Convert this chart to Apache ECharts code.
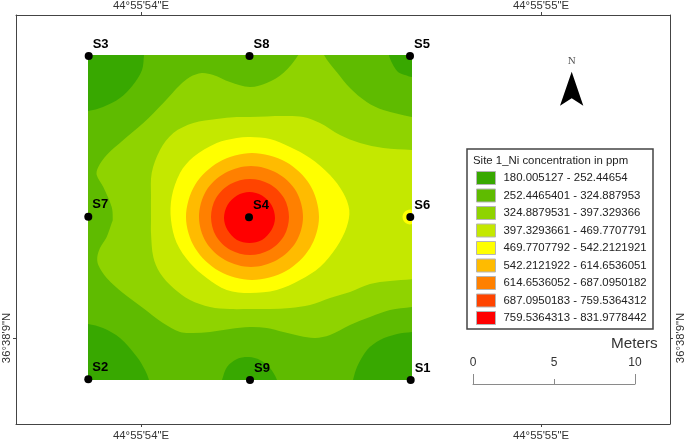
<!DOCTYPE html>
<html><head><meta charset="utf-8">
<style>html,body{margin:0;padding:0;background:#fff}#c{width:685px;height:439px}</style>
<script src="https://cdn.jsdelivr.net/npm/echarts@6/dist/echarts.min.js"></script></head>
<body><div id="c"></div>
<script>
// Map units: origin at station S2, x east, y north.
const bandNames = ['180.005127 - 252.44654','252.4465401 - 324.887953','324.8879531 - 397.329366','397.3293661 - 469.7707791','469.7707792 - 542.2121921','542.2121922 - 614.6536051','614.6536052 - 687.0950182','687.0950183 - 759.5364312','759.5364313 - 831.9778442'];
const bandColors = ['#38a800','#5fbb00','#8fd300','#c4e800','#ffff00','#ffbb00','#ff8000','#ff4400','#ff0000'];

const band2 = [[[-30,-30],[354,-30],[354,355],[-30,355]]];
const band1 = [
 [[58,345],[56,325],[54,310],[45,295],[32,282],[15,273],[0,269],[-25,266],[-25,345]],
 [[300,345],[301,325],[304,317],[310,308],[317,305],[324,303],[345,302],[345,345]],
 [[-25,59],[0,56],[15,52],[32,42],[49,23],[57,10],[61,0],[65,-20],[-25,-20]],
 [[128,-20],[134,0],[139,13],[149,21],[161,23],[172,20],[182,12],[189,0],[195,-20]],
 [[260,-20],[265,0],[269,13],[279,30],[292,40],[309,46],[324,48],[345,50],[345,-20]]
];
const band3 = [[[24.7,160],[23.7,173],[15.3,193],[8.7,205],[10.3,213],[18.7,225],[35.3,240],[55.3,257],[75.3,277],[92,295],[102,303],[113.7,307],[125.3,305],[142,298],[162,293],[178.7,297],[195.3,307],[210.3,325],[217,343],[230,343],[236,325],[248.7,308],[262,292],[278.7,278],[295.3,270],[323.7,263],[345,258],[345,78],[323.7,73],[302,70],[282,63],[262,55],[242,45],[227,42],[212,44],[195.3,48],[178.7,52],[162,53],[142,51],[122,48],[105,47],[92,48],[75,57],[55,72],[35,87],[18.7,102],[10.3,115],[9.3,123],[12,132],[18.7,143],[23.7,157]]];
const band4 = [[[63,160],[63,183],[63.7,207],[72,230],[85.3,247],[105.3,257],[128.7,261],[148.7,263],[162,263],[195.3,264],[215.3,263],[232,257],[252,245],[272,237],[295.3,232],[323.7,230],[345,228],[345,103],[323.7,100.7],[302,99],[282,96],[262,88],[242,82],[222,75],[202,72],[182,71],[162,71],[142,71],[122,73],[102,80],[85.3,92],[72,107],[65.3,123],[63,147]]];
const band5 = [
 [[83,160],[83.7,183],[92,207],[105.3,223],[128.7,237],[148.7,242],[162,243],[182,241],[202,233],[222,222],[242,205],[255.3,187],[261.3,170],[258.7,153],[248.7,133],[232,113],[212,100],[188.7,90],[162,87],[138.7,90],[118.7,102],[102,117],[88.7,137]],
 [[329.5,163],[327.5,168],[322,170.5],[316.5,168],[314.5,163],[316.5,158],[322,155.5],[327.5,158]]
];
const band6 = [[[231,163],[222,195],[198,218],[164,227],[131,218],[107,195],[98,163],[107,132],[131,109],[164,100],[198,109],[222,132]]];
const band7 = [[[215,163],[208,189],[189,207],[163,214],[137,207],[118,189],[111,163],[118,138],[137,120],[163,113],[189,120],[208,138]]];
const band8 = [[[201,163],[196,182],[181.5,196],[162,201],[142.5,196],[128,182],[123,163],[128,144],[142.5,130],[162,125],[181.5,130],[196,144]]];
const band9 = [[[187,162],[183.5,175],[174,184.5],[161.5,188],[149,184.5],[139.5,175],[136,162],[139.5,150],[149,140],[161.5,137],[174,140],[183.5,150]]];

const paintOrder = [[1,band2],[0,band1],[2,band3],[3,band4],[4,band5],[5,band6],[6,band7],[7,band8],[8,band9]];

const stations = [['S1',322.7,0],['S2',0.3,0.7],['S3',0.7,324],['S4',161,162.7],['S5',322,324],['S6',322.3,163],['S7',0.3,163.3],['S8',161.5,324],['S9',162,0]];
const lonTicks = [53,453];
const lonLabels = ['44°55\'54"E','44°55\'55"E'];
const latTicks = [42];
const latLabels = ['36°38\'9"N'];
const scaleTicks = [0,5,10];

const chart = echarts.init(document.getElementById('c'),null,{renderer:'canvas'});
const frameColor = '#444';
const lonAxis = (pos,m) => ({type:'value',gridIndex:0,position:pos,min:-72,max:582,
  axisLine:{show:true,onZero:false,lineStyle:{color:frameColor,width:1}},
  axisTick:{show:true,length:3,customValues:lonTicks,lineStyle:{color:frameColor}},
  axisLabel:{show:true,margin:m,customValues:lonTicks,fontSize:11.3,color:'#333',fontFamily:'Liberation Sans',
    formatter:v=>lonLabels[lonTicks.indexOf(v)]},splitLine:{show:false}});
const latAxis = (pos,m) => ({type:'value',gridIndex:0,position:pos,min:-44,max:365,
  axisLine:{show:true,onZero:false,lineStyle:{color:frameColor,width:1}},
  axisTick:{show:true,length:3,customValues:latTicks,lineStyle:{color:frameColor}},
  axisLabel:{show:true,margin:m,rotate:90,customValues:latTicks,fontSize:11.3,color:'#333',fontFamily:'Liberation Sans',
    formatter:v=>latLabels[latTicks.indexOf(v)]},splitLine:{show:false}});

const bandSeries = paintOrder.map(([idx,outlines],k)=>({
  type:'custom',name:bandNames[idx],xAxisIndex:2,yAxisIndex:2,clip:true,silent:true,z:2+k*0.01,
  itemStyle:{color:bandColors[idx]},
  data:outlines.map((o,i)=>[i]),
  renderItem:(params,api)=>({type:'polygon',
    shape:{points:outlines[params.dataIndex].map(p=>api.coord(p)),smooth:(idx===1)?0:0.33,smoothConstraint:false},
    style:{fill:bandColors[idx]}})
}));

chart.setOption({
  animation:false,backgroundColor:'#fff',
  textStyle:{fontFamily:'Liberation Sans'},
  title:[
    {text:'Site 1_Ni concentration in ppm',left:473,top:155,padding:0,textStyle:{fontSize:11.4,fontWeight:'normal',color:'#222',fontFamily:'Liberation Sans'}},
    {text:'Meters',left:611,top:336,padding:0,textStyle:{fontSize:15.3,fontWeight:'normal',color:'#333',fontFamily:'Liberation Sans'}}
  ],
  grid:[
    {left:16,top:15,width:654,height:409,show:false,outerBoundsMode:'none'},
    {left:473,top:384,width:162,height:10,show:false,outerBoundsMode:'none'},
    {left:88,top:55,width:324,height:325,show:false,outerBoundsMode:'none'}
  ],
  xAxis:[lonAxis('bottom',6),lonAxis('top',4),
    {type:'value',gridIndex:2,min:0,max:324,show:false},
    {type:'value',gridIndex:1,position:'top',min:0,max:10,interval:10,
      axisLine:{show:true,onZero:false,lineStyle:{color:'#8a8a8a'}},
      axisTick:{show:true,length:10,lineStyle:{color:'#8a8a8a'}},
      minorTick:{show:true,splitNumber:2,length:5,lineStyle:{color:'#8a8a8a'}},
      axisLabel:{show:true,margin:15,customValues:scaleTicks,fontSize:12,color:'#333',fontFamily:'Liberation Sans'},
      splitLine:{show:false}}
  ],
  yAxis:[latAxis('left',4),latAxis('right',5),
    {type:'value',gridIndex:2,min:0,max:325,show:false},
    {type:'value',gridIndex:1,min:0,max:1,show:false}
  ],
  legend:{orient:'vertical',left:476,top:171,padding:0,itemWidth:19,itemHeight:13,itemGap:3.5,icon:'rect',selectedMode:false,
    data:bandNames,itemStyle:{borderColor:'#b5b5b5',borderWidth:1},
    textStyle:{fontSize:11.4,color:'#222',fontFamily:'Liberation Sans',padding:[0,0,0,3]}},
  graphic:[
    {type:'rect',z:1,shape:{x:467,y:149,width:186,height:180},style:{fill:'#fff',stroke:'#444',lineWidth:1.5}},
    {type:'text',z:5,x:571.7,y:61,style:{text:'N',fill:'#555',font:'11px "Liberation Serif"',textAlign:'center',textVerticalAlign:'middle'}},
    {type:'polygon',z:5,shape:{points:[[571.7,71.7],[583.3,105.7],[571.7,98.3],[560,105.7]]},style:{fill:'#000'}}
  ],
  series:[...bandSeries,
    {type:'scatter',name:'Stations',xAxisIndex:2,yAxisIndex:2,clip:false,silent:true,z:10,symbolSize:8,
     itemStyle:{color:'#000',opacity:1},data:stations.map(s=>({name:s[0],value:[s[1],s[2]]})),
     label:{show:true,formatter:'{b}',position:'right',distance:0,offset:[0,-12],fontSize:13,fontWeight:'bold',color:'#000',fontFamily:'Liberation Sans'}}
  ]
});
</script></body></html>
